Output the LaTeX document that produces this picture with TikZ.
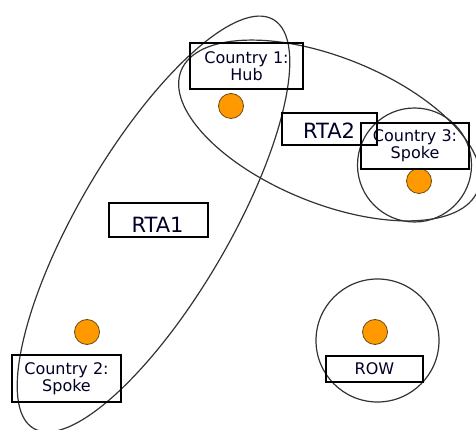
\documentclass[tikz,border=0pt]{standalone}
\usepackage{fontspec}
\setmainfont{DejaVu Sans}
\definecolor{dotfill}{HTML}{FF9900}
\definecolor{dotline}{HTML}{6B4A10}
\definecolor{ringline}{HTML}{333333}
\begin{document}
\begin{tikzpicture}[x=1pt,y=1pt,
  ring/.style={draw=ringline,line width=1.2pt},
  labelbox/.style={draw=black,line width=1.3pt,rectangle,inner sep=0pt},
  smalltext/.style={font=\fontsize{16pt}{17pt}\selectfont,align=center,inner sep=0pt,text=black!85!blue},
  bigtext/.style={font=\fontsize{21pt}{24pt}\selectfont,inner sep=0pt,text=black!85!blue},
  country/.style={circle,fill=dotfill,draw=dotline,line width=0.8pt,minimum size=25pt,inner sep=0pt}]
\useasboundingbox (0,0) rectangle (476,430);
% regional groupings
\draw[ring,rotate around={59.6:(153.5,206)}] (153.5,206) ellipse [x radius=237pt,y radius=75pt];
\draw[ring,rotate around={-22:(329.5,299.5)}] (329.5,299.5) ellipse [x radius=160pt,y radius=73pt];
\draw[ring] (414.5,265) circle [radius=57pt];
\draw[ring] (377.5,89.5) circle [radius=61.5pt];
% countries
\node[country] (hub) at (231,324) {};
\node[country] (s3) at (419,249) {};
\node[country] (s2) at (87,98) {};
\node[country] (rowd) at (375,98) {};
% label boxes
\node[labelbox,minimum width=113pt,minimum height=46pt] (c1box) at (246.5,364) {};
\node[smalltext] (c1txt) at (c1box.center) {Country 1:\\Hub};
\node[labelbox,minimum width=108pt,minimum height=46pt] (c3box) at (415,284) {};
\node[smalltext] (c3txt) at (c3box.center) {Country 3:\\Spoke};
\node[labelbox,minimum width=109pt,minimum height=47pt] (c2box) at (66.5,51.5) {};
\node[smalltext] (c2txt) at (c2box.center) {Country 2:\\Spoke};
\node[labelbox,minimum width=97pt,minimum height=26pt] (rowbox) at (374.5,61) {};
\node[smalltext] (rowtxt) at (rowbox.center) {ROW};
\node[labelbox,minimum width=99pt,minimum height=34pt] (rta1box) at (158.5,210) {};
\node[bigtext] (rta1txt) at (157.5,205.5) {RTA1};
\node[labelbox,minimum width=95pt,minimum height=32pt] (rta2box) at (329.5,301) {};
\node[bigtext] (rta2txt) at (329,299) {RTA2};
\end{tikzpicture}
\end{document}
